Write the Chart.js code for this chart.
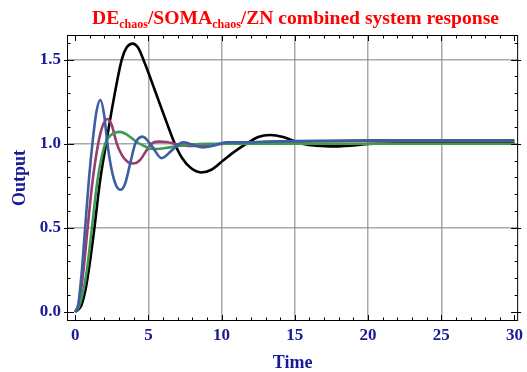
<!DOCTYPE html>
<html>
<head>
<meta charset="utf-8">
<script src="https://cdn.jsdelivr.net/npm/chart.js@4/dist/chart.umd.min.js"></script>
<style>
  html, body { margin: 0; padding: 0; background: #fff; }
</style>
</head>
<body>
<canvas id="chart" width="527" height="372"></canvas>
<script>
// step responses
const blackT = [0, 0.4, 0.7, 0.91, 1.3, 1.7, 2.11, 2.6, 3.18, 3.5, 3.93, 4.3, 4.7, 5.2, 5.7, 6.25, 6.8, 7.3, 7.9, 8.6, 9.3, 10.1, 11.0, 11.7, 12.5, 13.3, 14.2, 15.1, 15.5, 16.5, 17.8, 19.0, 20.0, 22.0, 25.0, 30.0];
const blackY = [0, 0.035, 0.13, 0.24, 0.49, 0.78, 1.0, 1.25, 1.5, 1.57, 1.595, 1.57, 1.49, 1.375, 1.255, 1.125, 1.0, 0.915, 0.855, 0.829, 0.845, 0.9, 0.96, 1.0, 1.04, 1.052, 1.04, 1.01, 1.0, 0.988, 0.984, 0.99, 0.998, 1.003, 1.004, 1.003];

const magentaT = [0, 0.25, 0.57, 0.85, 1.19, 1.57, 1.85, 2.2, 2.5, 2.84, 3.2, 3.6, 3.98, 4.4, 4.8, 5.2, 5.7, 6.25, 6.8, 7.36, 8.0, 8.7, 10.0, 12.0, 15.0, 20.0, 30.0];
const magentaY = [0, 0.05, 0.25, 0.5, 0.78, 1.0, 1.1, 1.147, 1.11, 1.0, 0.93, 0.89, 0.882, 0.9, 0.95, 1.0, 1.012, 1.01, 0.998, 0.99, 0.986, 0.987, 0.998, 1.005, 1.012, 1.016, 1.017];

const greenT = [0, 0.3, 0.8, 1.14, 1.53, 2.05, 2.5, 3.07, 3.6, 4.2, 4.66, 5.1, 5.57, 6.46, 7.8, 9.0, 12.0, 30.0];
const greenY = [0, 0.04, 0.25, 0.5, 0.786, 1.0, 1.055, 1.07, 1.05, 1.01, 0.988, 0.972, 0.968, 0.978, 0.994, 1.0, 1.0, 1.0];

const blueT = [0, 0.2, 0.46, 0.68, 0.93, 1.2, 1.45, 1.72, 1.98, 2.2, 2.5, 2.8, 3.1, 3.4, 3.75, 4.1, 4.6, 5.2, 5.9, 6.6, 7.36, 8.0, 8.7, 9.5, 10.3, 11.5, 13.0, 15.0, 20.0, 25.0, 30.0];
const blueY = [0, 0.04, 0.25, 0.5, 0.78, 1.02, 1.19, 1.26, 1.17, 1.0, 0.84, 0.75, 0.726, 0.76, 0.88, 1.0, 1.042, 0.99, 0.914, 0.96, 1.008, 0.995, 0.978, 0.99, 1.008, 1.008, 1.012, 1.016, 1.02, 1.02, 1.02];

const xTickLabels = [0, 5, 10, 15, 20, 25, 30];
const yTickLabels = [0, 0.5, 1.0, 1.5];

const navy = '#1a1a96';
const gridGray = 'rgba(140,140,140,0.75)';

function pairs(ts, ys) {
  return ts.map((t, i) => ({ x: t, y: ys[i] }));
}

function line(label, ts, ys, color, order) {
  return {
    label: label,
    data: pairs(ts, ys),
    borderColor: color,
    borderWidth: 2.6,
    pointRadius: 0,
    fill: false,
    cubicInterpolationMode: 'monotone',
    order: order
  };
}

// frame, inner ticks, title and axis names
const framePlugin = {
  id: 'frame',
  afterDraw(chart) {
    const ctx = chart.ctx;
    const a = chart.chartArea;
    const xs = chart.scales.x, ys = chart.scales.y;
    ctx.save();
    ctx.strokeStyle = '#000';
    ctx.lineWidth = 1;
    ctx.strokeRect(a.left + 0.5, a.top + 0.5, a.right - a.left - 1, a.bottom - a.top - 1);

    ctx.beginPath();
    for (let v = 0; v <= 30; v++) {
      const px = Math.round(xs.getPixelForValue(v)) + 0.5;
      const len = v % 5 === 0 ? 6 : 3.5;
      ctx.moveTo(px, a.bottom); ctx.lineTo(px, a.bottom - len);
      ctx.moveTo(px, a.top); ctx.lineTo(px, a.top + len);
    }
    for (let k = 0; k <= 16; k++) {
      const py = Math.round(ys.getPixelForValue(k / 10)) + 0.5;
      const major = k % 5 === 0;
      const len = major ? 7 : 3.5;
      const out = major ? 3 : 0;
      ctx.moveTo(a.left - out, py); ctx.lineTo(a.left + len, py);
      ctx.moveTo(a.right + out, py); ctx.lineTo(a.right - len, py);
    }
    ctx.stroke();

    // title with subscripts
    const parts = [
      ['DE', false], ['chaos', true], ['/SOMA', false], ['chaos', true],
      ['/ZN combined system response', false]
    ];
    const big = 'bold 19.6px "Liberation Serif"';
    const small = 'bold 12px "Liberation Serif"';
    let w = 0;
    parts.forEach(p => { ctx.font = p[1] ? small : big; w += ctx.measureText(p[0]).width; });
    let x = 295.5 - w / 2;
    ctx.fillStyle = '#ff0000';
    ctx.textBaseline = 'alphabetic';
    ctx.textAlign = 'left';
    parts.forEach(p => {
      ctx.font = p[1] ? small : big;
      ctx.fillText(p[0], x, p[1] ? 28 : 24);
      x += ctx.measureText(p[0]).width;
    });

    ctx.fillStyle = navy;
    ctx.font = 'bold 18px "Liberation Serif"';
    ctx.textAlign = 'center';
    ctx.fillText('Time', (a.left + a.right) / 2, 368);
    ctx.translate(25, (a.top + a.bottom) / 2);
    ctx.rotate(-Math.PI / 2);
    ctx.fillText('Output', 0, 0);
    ctx.restore();
  }
};

new Chart(document.getElementById('chart').getContext('2d'), {
  type: 'line',
  data: {
    datasets: [
      line('DE chaos', blackT, blackY, '#000000', 3),
      line('SOMA chaos', magentaT, magentaY, '#993d71', 2),
      line('ZN', greenT, greenY, '#3d9955', 1),
      line('combined', blueT, blueY, '#3d5ea3', 0)
    ]
  },
  options: {
    responsive: false,
    animation: false,
    devicePixelRatio: 1,
    layout: { padding: { top: 35, right: 4, left: 0, bottom: 0 } },
    plugins: {
      legend: { display: false },
      tooltip: { enabled: false },
      title: { display: false }
    },
    scales: {
      x: {
        type: 'linear',
        min: -0.56,
        max: 30.25,
        afterBuildTicks: s => { s.ticks = xTickLabels.map(v => ({ value: v })); },
        afterFit: s => { s.height = 51; },
        ticks: {
          color: navy,
          font: { family: '"Liberation Serif"', size: 17, weight: 'bold' },
          padding: 4,
          maxRotation: 0,
          callback: v => String(v)
        },
        grid: {
          drawTicks: false,
          lineWidth: 1.5,
          color: c => (c.tick && (c.tick.value === 0 || c.tick.value === 30)) ? 'rgba(0,0,0,0)' : gridGray
        },
        border: { display: false }
      },
      y: {
        type: 'linear',
        min: -0.054,
        max: 1.646,
        afterBuildTicks: s => { s.ticks = yTickLabels.map(v => ({ value: v })); },
        afterFit: s => { s.width = 67; },
        ticks: {
          color: navy,
          font: { family: '"Liberation Serif"', size: 17, weight: 'bold' },
          padding: 6,
          callback: v => v.toFixed(1)
        },
        grid: {
          drawTicks: false,
          lineWidth: 1.5,
          color: c => (c.tick && c.tick.value === 0) ? 'rgba(0,0,0,0)' : gridGray
        },
        border: { display: false }
      }
    }
  },
  plugins: [framePlugin]
});
</script>
</body>
</html>
